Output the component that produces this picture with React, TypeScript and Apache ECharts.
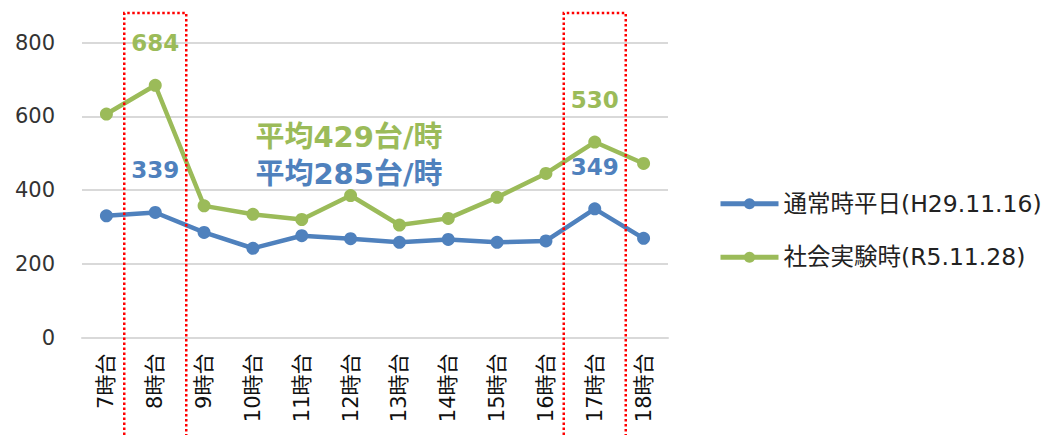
import React, { useEffect, useRef } from "react";
import * as echarts from "echarts";

const categories = ["7時台", "8時台", "9時台", "10時台", "11時台", "12時台", "13時台", "14時台", "15時台", "16時台", "17時台", "18時台"];
const normalName = "通常時平日(H29.11.16)";
const experimentName = "社会実験時(R5.11.28)";
const normalValues = [330, 339, 285, 242, 276, 268, 258, 266, 258, 262, 349, 269];
const experimentValues = [606, 684, 357, 334, 320, 385, 305, 323, 380, 445, 530, 472];
const labeledIndices = [1, 10];
const avgTexts = ["平均429台/時", "平均285台/時"];
const highlightCategories = ["8時台", "17時台"];
const yTicks = { min: 0, max: 800, interval: 200 };

const BLUE = "#4F81BD";
const GREEN = "#9BBB59";
const FONT = '"DejaVu Sans", "Noto Sans CJK JP", sans-serif';

export default function App() {
  const ref = useRef<HTMLDivElement>(null);
  useEffect(() => {
    if (!ref.current) return;
    const chart = echarts.init(ref.current, undefined, { renderer: "svg" });
    const labelCfg = (color: string) => ({
      show: true,
      position: "top",
      distance: 24,
      color,
      fontSize: 23,
      fontWeight: "bold",
      fontFamily: FONT,
      formatter: (p: any) => (labeledIndices.includes(p.dataIndex) ? String(p.value) : ""),
    });
    chart.setOption({
      animation: false,
      textStyle: { fontFamily: FONT },
      grid: { left: 82, right: 382, top: 42.5, bottom: 97.5, containLabel: false },
      legend: {
        orient: "vertical",
        left: 713,
        top: 187,
        itemWidth: 58,
        itemHeight: 14,
        itemGap: 30,
        lineStyle: { width: 5 },
        textStyle: { fontSize: 23.5, color: "#222", fontFamily: FONT },
        data: [
          { name: normalName, lineStyle: { width: 5, color: BLUE } },
          { name: experimentName, lineStyle: { width: 5, color: GREEN } },
        ],
      },
      xAxis: {
        type: "category",
        data: categories,
        boundaryGap: true,
        axisLine: { show: true, lineStyle: { color: "#D9D9D9", width: 2 } },
        axisTick: { show: false },
        axisLabel: { rotate: 90, fontSize: 21, color: "#111", margin: 16, fontFamily: FONT, interval: 0 },
      },
      yAxis: {
        type: "value",
        min: yTicks.min,
        max: yTicks.max,
        interval: yTicks.interval,
        axisLine: { show: false },
        axisTick: { show: false },
        splitLine: { lineStyle: { color: "#D9D9D9", width: 2 } },
        axisLabel: { fontSize: 21, color: "#333", margin: 27, fontFamily: FONT },
      },
      series: [
        {
          name: normalName,
          type: "line",
          data: normalValues,
          symbol: "circle",
          symbolSize: 13,
          lineStyle: { color: BLUE, width: 4.5 },
          itemStyle: { color: BLUE },
          label: labelCfg(BLUE),
        },
        {
          name: experimentName,
          type: "line",
          data: experimentValues,
          symbol: "circle",
          symbolSize: 13,
          lineStyle: { color: GREEN, width: 4.5 },
          itemStyle: { color: GREEN },
          label: labelCfg(GREEN),
        },
      ],
    });

    const halfW = 31;
    const rects = highlightCategories.map((c) => {
      const cx = chart.convertToPixel({ xAxisIndex: 0 }, c) as number;
      return {
        type: "polyline",
        silent: true,
        shape: { points: [[cx - halfW, 440], [cx - halfW, 13], [cx + halfW, 13], [cx + halfW, 440]] },
        style: { fill: "none", stroke: "#FF0000", lineWidth: 2.5, lineDash: [2.5, 2.5] },
        z: 10,
      };
    });
    chart.setOption({
      graphic: [
        ...rects,
        {
          type: "text",
          x: 349,
          y: 137,
          style: { text: avgTexts[0], fill: GREEN, font: `bold 29px ${FONT}`, align: "center", verticalAlign: "middle" },
        },
        {
          type: "text",
          x: 349,
          y: 174,
          style: { text: avgTexts[1], fill: BLUE, font: `bold 29px ${FONT}`, align: "center", verticalAlign: "middle" },
        },
      ],
    });
    return () => chart.dispose();
  }, []);
  return <div ref={ref} style={{ position: "absolute", left: 0, top: 0, width: 1050, height: 435 }} />;
}
